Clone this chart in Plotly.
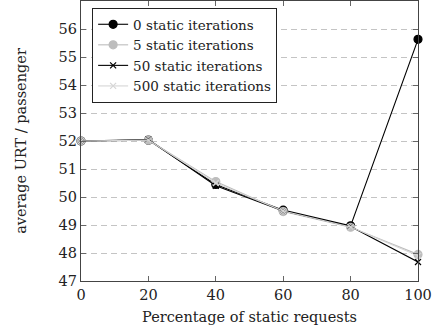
import plotly.graph_objects as go

# Share of static requests (%) on the x axis
static_share = [0, 20, 40, 60, 80, 100]

# Average URT per passenger for each number of static iterations
urt_0 = [52.0, 52.03, 50.45, 49.53, 48.97, 55.63]
urt_5 = [52.0, 52.03, 50.55, 49.48, 48.92, 47.95]
urt_50 = [52.0, 52.05, 50.40, 49.50, 48.95, 47.68]
urt_500 = [52.0, 52.03, 50.50, 49.50, 48.93, 47.90]

series_names = ["0 static iterations", "5 static iterations",
                "50 static iterations", "500 static iterations"]

x_ticks = [0, 20, 40, 60, 80, 100]
y_ticks = [47, 48, 49, 50, 51, 52, 53, 54, 55, 56]

FONT = "DejaVu Serif"

styles = [
    dict(color="black", symbol="circle", size=8),
    dict(color="#bdbdbd", symbol="circle", size=8),
    dict(color="black", symbol="x-thin", size=6),
    dict(color="#d6d6d6", symbol="x-thin", size=6),
]

fig = go.Figure()
for name, ys, st in zip(series_names, [urt_0, urt_5, urt_50, urt_500], styles):
    fig.add_trace(go.Scatter(
        x=static_share, y=ys, name=name, mode="lines+markers",
        line=dict(color=st["color"], width=1.1),
        marker=dict(symbol=st["symbol"], size=st["size"], color=st["color"],
                    line=dict(color=st["color"], width=1.2)),
        cliponaxis=False,
    ))

axis_common = dict(
    showline=True, linecolor="#444", linewidth=1.2, mirror="ticks",
    ticks="inside", ticklen=5, tickcolor="#666", tickwidth=1,
    tickfont=dict(family=FONT, size=14.5, color="#222"),
    zeroline=False,
)

fig.update_layout(
    width=434, height=336,
    margin=dict(l=81, r=16, t=1, b=55),
    paper_bgcolor="white", plot_bgcolor="white",
    font=dict(family=FONT, color="#222"),
    xaxis=dict(range=[0, 100], tickvals=x_ticks, showgrid=False,
               title=dict(text="Percentage of static requests",
                          font=dict(family=FONT, size=14.5), standoff=10),
               **axis_common),
    yaxis=dict(range=[47, 57], tickvals=y_ticks, showgrid=True,
               gridcolor="#c4c4c4", griddash="6px,4px", gridwidth=1,
               title=dict(text="average URT / passenger",
                          font=dict(family=FONT, size=14.5), standoff=28),
               **axis_common),
    legend=dict(x=0.033, y=0.975, xanchor="left", yanchor="top",
                bgcolor="white", bordercolor="#222", borderwidth=1,
                font=dict(family=FONT, size=13.5, color="#222"),
                tracegroupgap=0, itemwidth=30),
    showlegend=True,
)

fig.write_html("out.html")
